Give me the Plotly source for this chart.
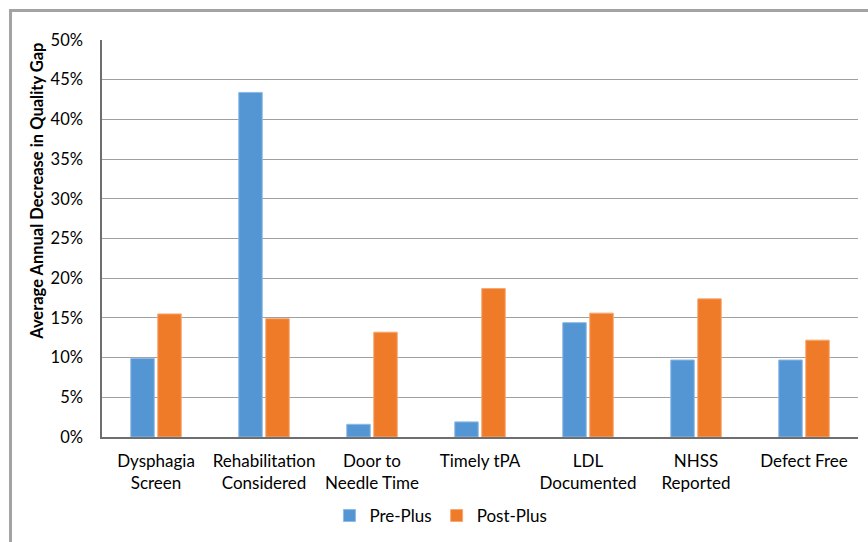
import plotly.graph_objects as go

# Quality measures and average annual decrease in quality gap
categories = [
    "Dysphagia<br>Screen",
    "Rehabilitation<br>Considered",
    "Door to<br>Needle Time",
    "Timely tPA",
    "LDL<br>Documented",
    "NHSS<br>Reported",
    "Defect Free",
]
pre_plus = [0.099, 0.434, 0.016, 0.019, 0.144, 0.097, 0.097]
post_plus = [0.155, 0.149, 0.132, 0.187, 0.156, 0.174, 0.122]

series_names = ["Pre-Plus", "Post-Plus"]
y_ticks = [0, 0.05, 0.10, 0.15, 0.20, 0.25, 0.30, 0.35, 0.40, 0.45, 0.50]
y_title = "Average Annual Decrease in Quality Gap"

FONT = "Lato, Calibri, 'Open Sans', sans-serif"

fig = go.Figure()
fig.add_trace(go.Bar(
    x=categories, y=pre_plus, name=series_names[0],
    marker=dict(color="#5495d4", line=dict(color="#8dbbe6", width=1)),
))
fig.add_trace(go.Bar(
    x=categories, y=post_plus, name=series_names[1],
    marker=dict(color="#ef7b28", line=dict(color="#f6a974", width=1)),
))

# Outer frame (top and left edges)
frame = "#a3a3a3"
fig.add_shape(type="line", xref="paper", yref="paper",
              x0=-0.121, x1=1.02, y0=1.0743, y1=1.0743,
              line=dict(color=frame, width=3))
fig.add_shape(type="line", xref="paper", yref="paper",
              x0=-0.121, x1=-0.121, y0=1.078, y1=-0.28,
              line=dict(color=frame, width=3))

# Vertical axis title
fig.add_annotation(
    text=f"<b>{y_title}</b>", textangle=-90,
    xref="paper", yref="paper", x=-0.086, y=0.62,
    xanchor="center", yanchor="middle", showarrow=False,
    font=dict(size=16.5, color="black"),
)

fig.update_layout(
    width=868, height=542,
    margin=dict(l=102, r=10, t=40, b=105),
    paper_bgcolor="white", plot_bgcolor="white",
    font=dict(family=FONT, size=17, color="black"),
    barmode="group", bargap=0.5, bargroupgap=0.13,
    showlegend=True,
    legend=dict(
        orientation="h", xref="container", yref="container",
        x=0.508, xanchor="center", y=0.048, yanchor="middle",
        font=dict(size=17), itemwidth=30, traceorder="normal",
    ),
    xaxis=dict(
        showline=True, linecolor="#6e6e6e", linewidth=1.5,
        ticks="", tickfont=dict(size=17), showgrid=False,
        ticklabelstandoff=8, automargin=False,
    ),
    yaxis=dict(
        range=[0, 0.5], tickvals=y_ticks, tickformat=".0%",
        showgrid=True, gridcolor="#a0a0a0", gridwidth=1.4,
        showline=True, linecolor="#6e6e6e", linewidth=1.5,
        zeroline=False, ticks="", ticklabelstandoff=14,
        tickfont=dict(size=16.5), automargin=False,
    ),
)

fig.write_html("out.html")
